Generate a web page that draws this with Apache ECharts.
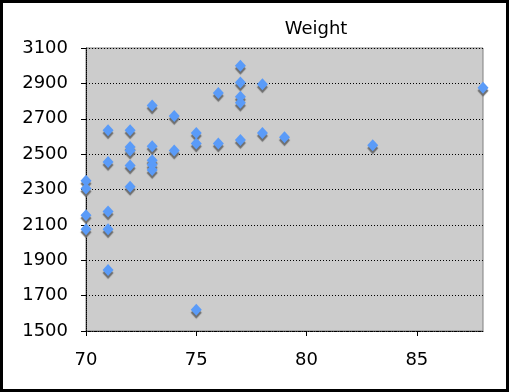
<!DOCTYPE html>
<html>
<head>
<meta charset="utf-8">
<script src="https://cdn.jsdelivr.net/npm/echarts@6/dist/echarts.min.js"></script>
<style>
html,body{margin:0;padding:0;background:#fff;}
#frame{position:absolute;left:0;top:0;width:509px;height:392px;box-sizing:border-box;border:3px solid #000;}
#chart{position:absolute;left:0;top:0;width:509px;height:392px;}
</style>
</head>
<body>
<div id="chart"></div>
<div id="frame"></div>
<script>
const title = "Weight";
const xTicks = [70, 75, 80, 85];
const yTicks = [1500, 1700, 1900, 2100, 2300, 2500, 2700, 2900, 3100];
const heightVals = [
  70, 70, 70, 70,
  71, 71, 71, 71, 71,
  72, 72, 72, 72, 72,
  73, 73, 73, 73, 73,
  74, 74,
  75, 75, 75,
  76, 76,
  77, 77, 77, 77, 77,
  78, 78,
  79,
  83,
  88
];
const weightVals = [
  2350, 2305, 2155, 2075,
  2635, 2455, 2175, 2075, 1845,
  2635, 2540, 2520, 2435, 2315,
  2775, 2545, 2465, 2440, 2410,
  2715, 2520,
  2620, 2560, 1620,
  2845, 2560,
  3000, 2905, 2825, 2790, 2580,
  2895, 2620,
  2595,
  2550,
  2875
];
const points = heightVals.map((h, i) => [h, weightVals[i]]);

const chart = echarts.init(document.getElementById('chart'), null, {renderer: 'canvas'});
chart.setOption({
  animation: false,
  backgroundColor: '#ffffff',
  title: {
    text: title,
    left: 311, top: 15,
    textAlign: 'center',
    textStyle: {fontFamily: 'DejaVu Sans', fontSize: 18, fontWeight: 'normal', color: '#000'}
  },
  grid: {
    left: 86, right: 26, top: 48, bottom: 61,
    show: true, backgroundColor: '#cccccc', borderColor: '#808080', borderWidth: 1
  },
  xAxis: {
    type: 'value', min: 70, max: 88, interval: 5,
    axisLine: {show: true, lineStyle: {color: '#000', type: [1, 1], width: 1}},
    axisTick: {show: true, length: 5, lineStyle: {color: '#000'}, customValues: xTicks},
    axisLabel: {customValues: xTicks, margin: 20, fontFamily: 'DejaVu Sans', fontSize: 18, color: '#000',
      formatter: v => String(v)},
    splitLine: {show: false}
  },
  yAxis: {
    type: 'value', min: 1500, max: 3100, interval: 200,
    axisLine: {show: true, lineStyle: {color: '#000', type: [1, 1], width: 1}},
    axisTick: {show: true, length: 5, lineStyle: {color: '#000'}, customValues: yTicks},
    axisLabel: {customValues: yTicks, margin: 18, fontFamily: 'DejaVu Sans', fontSize: 18, color: '#000',
      formatter: v => String(v)},
    splitLine: {show: true, lineStyle: {color: '#000', type: [1, 2], width: 1}}
  },
  series: [{
    type: 'scatter',
    data: points,
    symbol: 'diamond',
    symbolSize: [11, 12],
    itemStyle: {
      color: '#5a9bf8',
      opacity: 1,
      shadowColor: '#6e6e6e',
      shadowBlur: 1,
      shadowOffsetX: 0,
      shadowOffsetY: 3
    }
  }]
});
</script>
</body>
</html>
